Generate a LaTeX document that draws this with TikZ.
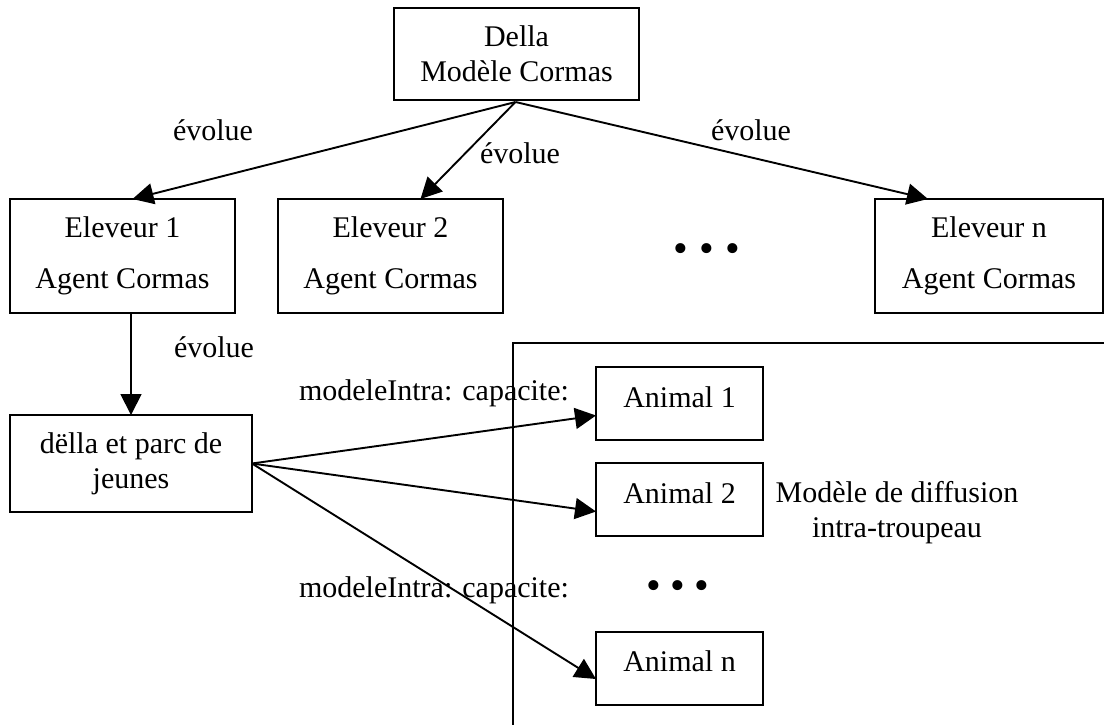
\documentclass[tikz,border=0pt]{standalone}
\usepackage{fontspec}
\setmainfont{Liberation Serif}
\usetikzlibrary{arrows.meta,calc}
\begin{document}
\begin{tikzpicture}[x=1pt,y=-1pt,
  every node/.style={font=\fontsize{30}{35}\selectfont, inner sep=0pt, outer sep=0pt},
  box/.style={draw, line width=2pt, align=center},
  eleveur/.style={box, minimum width=225pt, minimum height=114pt},
  animal/.style={box, minimum width=167pt, minimum height=73pt, text height=20.5pt, text depth=13.5pt},
  link/.style={line width=1.9pt, -{Triangle[length=21pt,width=21pt]}},
  lbl/.style={anchor=base},
  dots/.style={font=\fontsize{42}{46}\selectfont},
]
\useasboundingbox (0,0) rectangle (1104,724);
\clip (0,0) rectangle (1104,724);

% herd-level model frame (open to the right and bottom)
\draw[line width=2pt] (1110,343) -| (513,730);

% top level: the Della model
\node[box, minimum width=245pt, minimum height=92pt] (della) at (516.5,54) {Della\\Modèle Cormas};

% breeders
\node[eleveur] (e1) at (122.5,256) {Eleveur 1\\[16pt]Agent Cormas};
\node[eleveur] (e2) at (390.5,256) {Eleveur 2\\[16pt]Agent Cormas};
\node[eleveur, minimum width=228pt] (en) at (989,256) {Eleveur n\\[16pt]Agent Cormas};
\node[dots] (edots) at (707,253) {•\hspace{11pt}•\hspace{11pt}•};

% herd and animals
\node[box, minimum width=242pt, minimum height=97pt] (dj) at (131,463.5) {dëlla et parc de\\jeunes};
\node[animal] (a1) at (679.5,403.5) {Animal 1};
\node[animal] (a2) at (679.5,499.5) {Animal 2};
\node[animal] (an) at (679.5,668) {Animal n};
\node[dots] (adots) at (678,590) {•\hspace{9pt}•\hspace{9pt}•};
\node[align=center] (diff) at (897,512.5) {Modèle de diffusion\\intra-troupeau};

% connectors
\coordinate (apex) at ($(della.south)+(-1,2)$);
\draw[link] (apex) -- ($(e1.north)+(10,0)$);
\draw[link] (apex) -- ($(e2.north)+(30,0)$);
\draw[link] (apex) -- ($(en.north)+(-61,0)$);
\draw[link] (e1.south -| dj.north) -- (dj.north);
\draw[link] (dj.east) -- ($(a1.west)+(0,12)$);
\draw[link] (dj.east) -- ($(a2.west)+(0,12)$);
\draw[link] (dj.east) -- ($(an.west)+(0,11)$);

% connector labels
\node[lbl] (l1) at (213,140) {évolue};
\node[lbl] (l2) at (520,163) {évolue};
\node[lbl] (l3) at (751,140) {évolue};
\node[lbl] (l4) at (214,357) {évolue};
\node[lbl] (m1) at (434,400) {modeleIntra: capacite:};
\node[lbl] (m2) at (434,597) {modeleIntra: capacite:};
\end{tikzpicture}
\end{document}
